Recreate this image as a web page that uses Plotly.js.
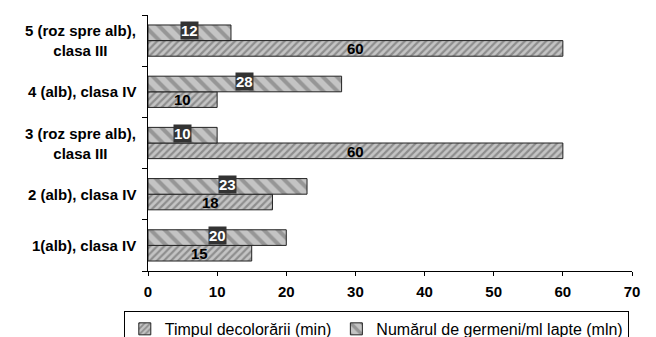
<!DOCTYPE html>
<html>
<head>
<meta charset="utf-8">
<script src="https://cdn.plot.ly/plotly-3.0.1.min.js"></script>
<style>html,body{margin:0;padding:0;background:#fff;}#chart{width:656px;height:337px;}</style>
</head>
<body>
<div id="chart"></div>
<script>
// Categories listed bottom to top (lines separated by <br>)
const categories = ['1(alb), clasa IV', '2 (alb), clasa IV', '3 (roz spre alb),<br>clasa III', '4 (alb), clasa IV', '5 (roz spre alb),<br>clasa III'];
const seriesNames = ['Timpul decolorării (min)', 'Numărul de germeni/ml lapte (mln)'];
const timpulValues = [15, 18, 60, 10, 60];
const germeniValues = [20, 23, 10, 28, 12];
const xTicks = [0, 10, 20, 30, 40, 50, 60, 70];

const FONT = 'Liberation Sans, Arial, sans-serif';

const traces = [
  {
    type: 'bar', orientation: 'h', name: seriesNames[0],
    y: categories, x: timpulValues,
    marker: {
      color: '#c0c0c0',
      line: {color: '#222', width: 1},
      pattern: {shape: '/', bgcolor: '#c4c4c4', fgcolor: '#8e8e8e', size: 5, solidity: 0.45}
    },
    hoverinfo: 'skip'
  },
  {
    type: 'bar', orientation: 'h', name: seriesNames[1],
    y: categories, x: germeniValues,
    marker: {
      color: '#c0c0c0',
      line: {color: '#222', width: 1},
      pattern: {shape: '\\', bgcolor: '#c4c4c4', fgcolor: '#969696', size: 10, solidity: 0.4}
    },
    hoverinfo: 'skip'
  }
];

const annotations = [];
categories.forEach((c, i) => {
  annotations.push({
    x: timpulValues[i] / 2, y: c, xref: 'x', yref: 'y',
    text: String(timpulValues[i]), showarrow: false, yshift: -8,
    font: {family: FONT, size: 15, color: '#000', weight: 'bold'}
  });
  annotations.push({
    x: germeniValues[i] / 2, y: c, xref: 'x', yref: 'y',
    text: String(germeniValues[i]), showarrow: false, yshift: 10,
    bgcolor: '#333333', borderpad: 0,
    font: {family: FONT, size: 15, color: '#fff', weight: 'bold'}
  });
  annotations.push({
    x: 0, xref: 'paper', xanchor: 'right', xshift: -10,
    y: c, yref: 'y', yshift: 0,
    text: c, showarrow: false, align: 'center',
    font: {family: FONT, size: 15, color: '#000', weight: 'bold'}
  });
});

const layout = {
  width: 656, height: 337,
  margin: {l: 148, r: 24, t: 15, b: 66, autoexpand: false},
  paper_bgcolor: '#fff', plot_bgcolor: '#fff',
  font: {family: FONT, color: '#000'},
  barmode: 'group',
  bargap: 0.39, bargroupgap: 0,
  showlegend: true,
  legend: {
    orientation: 'h', x: -0.05, xanchor: 'left', y: -0.156, yanchor: 'top',
    bordercolor: '#000', borderwidth: 1, bgcolor: '#fff',
    font: {family: FONT, size: 16, color: '#000'},
    traceorder: 'normal', itemwidth: 30, itemclick: false
  },
  xaxis: {
    range: [0, 70], tickvals: xTicks, ticktext: xTicks.map(String),
    showgrid: false, zeroline: false, showline: true, linecolor: '#000', linewidth: 1,
    ticks: 'outside', ticklen: 4, tickcolor: '#000', ticklabelstandoff: 3,
    tickfont: {family: FONT, size: 15, color: '#000', weight: 'bold'},
    fixedrange: true
  },
  yaxis: {
    type: 'category', categoryorder: 'array', categoryarray: categories,
    showgrid: false, zeroline: false, showline: true, linecolor: '#000', linewidth: 1,
    ticks: 'outside', ticklen: 5, tickcolor: '#000', tickson: 'boundaries',
    showticklabels: false, fixedrange: true
  },
  annotations: annotations
};

Plotly.newPlot('chart', traces, layout, {displayModeBar: false, staticPlot: true});
</script>
</body>
</html>
